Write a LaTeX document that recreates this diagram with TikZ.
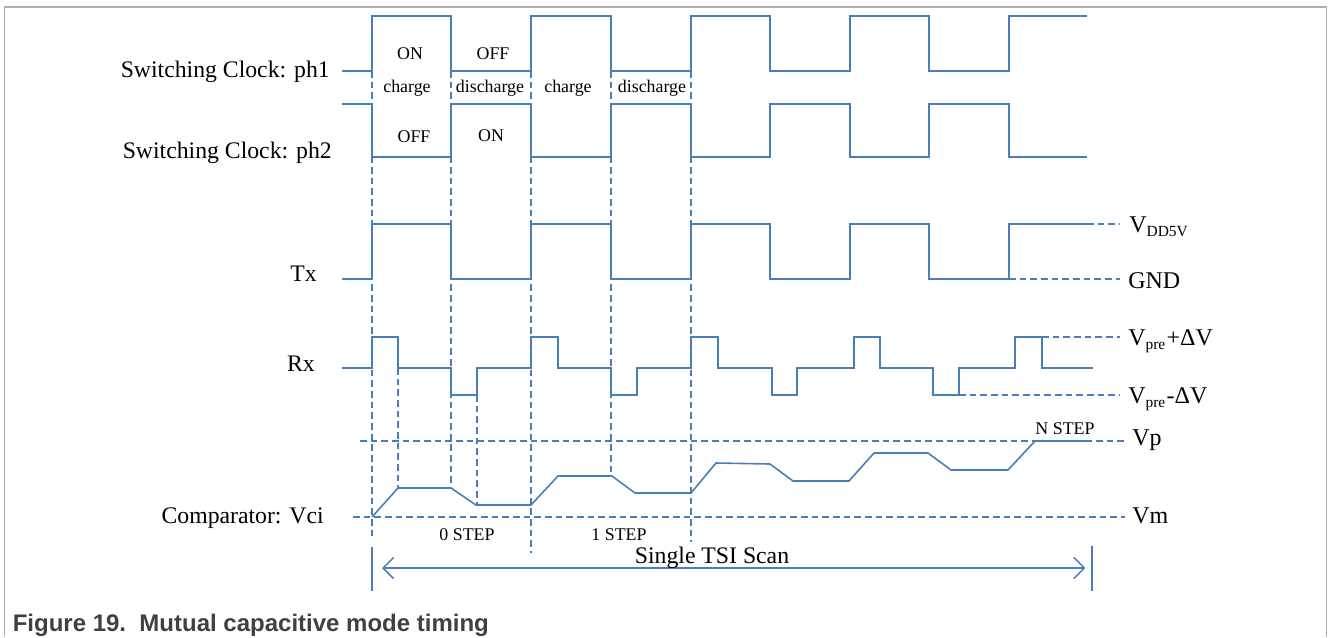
\documentclass[tikz,border=0pt]{standalone}
\usepackage{fontspec}
\setmainfont{Liberation Serif}
\newfontfamily\capfont{Liberation Sans}
\usetikzlibrary{arrows.meta}
\definecolor{tsiblue}{RGB}{74,126,187}
\definecolor{framegray}{RGB}{175,175,175}
\definecolor{capgray}{RGB}{64,64,64}
% lowered subscript used by the level labels
\newcommand\lowsub[1]{\raisebox{-3.6pt}{\fontsize{11.6}{12}\selectfont #1}}
\begin{document}
\begin{tikzpicture}[x=0.75pt,y=-0.75pt,
  wave/.style={draw=tsiblue,line width=1.5pt,line join=miter},
  ramp/.style={draw=tsiblue,line width=1.2pt,line join=round},
  guide/.style={draw=tsiblue,line width=1.1pt,dash pattern=on 5pt off 3pt},
  sig/.style={font=\fontsize{17.8}{20}\selectfont,inner sep=0pt,anchor=base east},
  tag/.style={font=\fontsize{13.4}{15}\selectfont,inner sep=0pt,anchor=base},
  lvl/.style={font=\fontsize{18}{20}\selectfont,inner sep=0pt,anchor=base west},
  tick/.style={draw=tsiblue,line width=1.1pt}]
\useasboundingbox (0,0) rectangle (1328,637);

% open frame around the figure
\draw[framegray,line width=1.1pt] (4.5,637) -- (4.5,7) -- (1326.5,7) -- (1326.5,637);

% signal names
\node[sig] (nph1) at (330,77) {Switching Clock: ph1};
\node[sig] (nph2) at (332,158) {Switching Clock: ph2};
\node[sig] (ntx)  at (317,281) {Tx};
\node[sig] (nrx)  at (315,371) {Rx};
\node[sig] (nvci) at (324,523) {Comparator: Vci};

% vertical timing guides
\draw[guide] (372,71) -- (372,540);
\draw[guide] (398,368) -- (398,488);
\draw[guide] (451,71) -- (451,488);
\draw[guide] (477,395) -- (477,505);
\draw[guide] (531,71) -- (531,553);
\draw[guide] (611,71) -- (611,476);
\draw[guide] (691,71) -- (691,542);

% horizontal level guides
\draw[guide] (360,441) -- (1125,441);
\draw[guide] (353,517) -- (1125,517);
\draw[guide] (1087,224) -- (1120,224);
\draw[guide] (1009,279) -- (1120,279);
\draw[guide] (1042,337) -- (1120,337);
\draw[guide] (959,395) -- (1120,395);

% switching clock ph1
\draw[wave] (342,71) -| (372,16) -| (451,71) -| (531,16) -| (611,71) -| (691,16)
  -| (770,71) -| (850,16) -| (929,71) -| (1009,16) -- (1087,16);
% switching clock ph2
\draw[wave] (342,104) -| (372,157) -| (451,104) -| (531,157) -| (611,104) -| (691,157)
  -| (770,104) -| (850,157) -| (929,104) -| (1009,157) -- (1087,157);
% Tx drive
\draw[wave] (342,279) -| (372,224) -| (451,279) -| (531,224) -| (611,279) -| (691,224)
  -| (770,279) -| (850,224) -| (929,279) -| (1009,224) -- (1087,224);
% Rx response
\draw[wave] (342,368) -| (372,337) -| (398,368) -| (451,395) -| (477,368)
  -| (531,337) -| (558,368) -| (611,395) -| (637,368)
  -| (691,337) -| (718,368) -| (772,395) -| (797,368)
  -| (854,337) -| (880,368) -| (933,395) -| (959,368)
  -| (1015,337) -| (1042,368) -- (1093,368);
% comparator input
\draw[ramp] (372,517) -- (398,488) -- (451,488) -- (476,505) -- (531,505)
  -- (558,476) -- (612,476) -- (635,493) -- (691,493) -- (716,463) -- (770,464)
  -- (793,481) -- (849,481) -- (874,453) -- (928,453) -- (951,470) -- (1008,470)
  -- (1035,441) -- (1088,441);

% phase annotations
\node[tag] (ton1)  at (410,59) {ON};
\node[tag] (toff1) at (493,59) {OFF};
\node[tag] (tch1)  at (407,92) {charge};
\node[tag] (tdis1) at (490,92) {discharge};
\node[tag] (tch2)  at (568,92) {charge};
\node[tag] (tdis2) at (652,92) {discharge};
\node[tag] (toff2) at (414,142) {OFF};
\node[tag] (ton2)  at (491,141) {ON};

% step annotations
\node[tag] (s0) at (467,540) {0 STEP};
\node[tag] (s1) at (619,540) {1 STEP};
\node[tag] (sn) at (1065,434) {N STEP};

% level labels
\node[lvl] (lvdd)  at (1129,232) {V\lowsub{DD5V}};
\node[lvl] (lgnd)  at (1128,288) {GND};
\node[lvl] (lpp)   at (1128,345) {V\lowsub{pre}\kern1pt+ΔV};
\node[lvl] (lpm)   at (1128,403) {V\lowsub{pre}\kern1pt-ΔV};
\node[lvl] (lvp)   at (1132,445) {Vp};
\node[lvl] (lvm)   at (1132,523) {Vm};

% scan span
\coordinate (scanL) at (372,568);
\coordinate (scanR) at (1092,568);
\draw[tick] (372,547) -- (372,591);
\draw[tick] (1092,546) -- (1092,591);
\draw[tick,{Straight Barb[length=8pt,width=16pt]}-{Straight Barb[length=8pt,width=16pt]}]
  ([xshift=7.5pt]scanL) -- ([xshift=-5pt]scanR);
\node[font=\fontsize{17.8}{20}\selectfont,inner sep=0pt,anchor=base] (scan) at (712,563) {Single TSI Scan};

% caption
\node[font=\capfont\bfseries\fontsize{18}{20}\selectfont,text=capgray,inner sep=0pt,anchor=base west]
  (cap) at (12.5,631) {Figure 19.\ \ Mutual capacitive mode timing};
\end{tikzpicture}
\end{document}
